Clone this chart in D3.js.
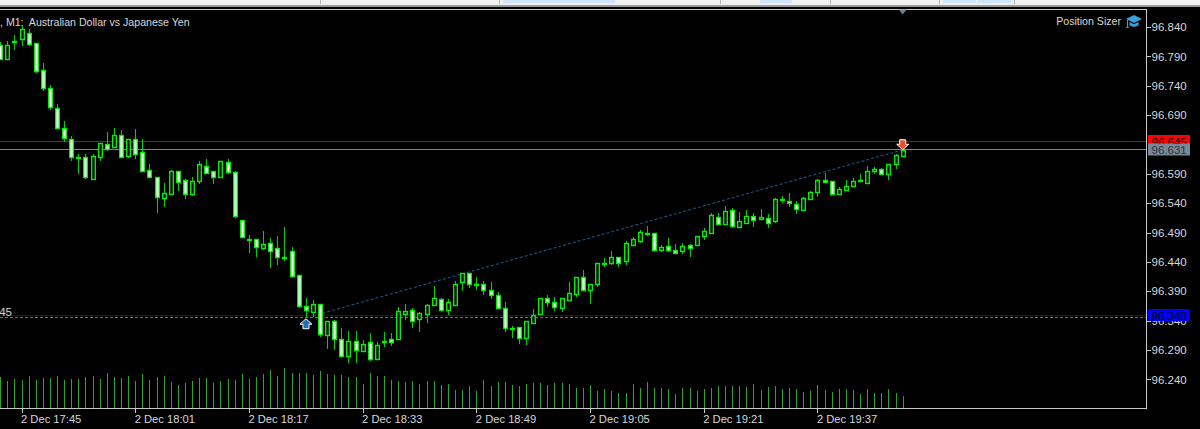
<!DOCTYPE html>
<html><head><meta charset="utf-8">
<script src="https://d3js.org/d3.v7.min.js"></script>
<style>html,body{margin:0;padding:0;background:#000;overflow:hidden}svg{display:block}text{font-family:"Liberation Sans",Arial,sans-serif;font-size:11.2px;white-space:pre}</style>
</head><body><svg id="c" width="1200" height="429"></svg>
<script>
const firstIndex = -3;
const opens = [96.810,96.786,96.816,96.819,96.829,96.812,96.766,96.736,96.702,96.668,96.650,96.618,96.618,96.581,96.619,96.640,96.635,96.656,96.620,96.649,96.627,96.597,96.585,96.549,96.555,96.594,96.579,96.555,96.577,96.603,96.594,96.585,96.610,96.593,96.512,96.479,96.479,96.464,96.473,96.463,96.448,96.458,96.418,96.365,96.354,96.368,96.316,96.340,96.309,96.279,96.306,96.289,96.303,96.275,96.305,96.308,96.309,96.351,96.359,96.342,96.351,96.367,96.377,96.358,96.367,96.406,96.421,96.402,96.402,96.393,96.383,96.362,96.328,96.329,96.310,96.336,96.351,96.378,96.372,96.362,96.376,96.386,96.414,96.393,96.402,96.437,96.439,96.448,96.442,96.469,96.476,96.490,96.490,96.461,96.467,96.460,96.458,96.468,96.469,96.484,96.490,96.517,96.505,96.528,96.500,96.507,96.519,96.513,96.515,96.509,96.548,96.544,96.539,96.528,96.548,96.559,96.580,96.577,96.556,96.562,96.569,96.578,96.575,96.595,96.599,96.590,96.606,96.620];
const highs = [96.814,96.816,96.826,96.842,96.837,96.812,96.778,96.741,96.709,96.680,96.654,96.624,96.624,96.623,96.642,96.661,96.668,96.665,96.650,96.666,96.649,96.607,96.585,96.575,96.597,96.595,96.581,96.585,96.612,96.616,96.594,96.612,96.616,96.595,96.512,96.486,96.479,96.493,96.481,96.484,96.500,96.465,96.418,96.378,96.375,96.368,96.340,96.341,96.328,96.322,96.322,96.307,96.319,96.304,96.320,96.319,96.364,96.368,96.361,96.354,96.369,96.399,96.378,96.377,96.408,96.422,96.422,96.414,96.408,96.405,96.388,96.371,96.331,96.329,96.340,96.360,96.378,96.384,96.381,96.379,96.406,96.415,96.426,96.403,96.439,96.446,96.459,96.448,96.476,96.482,96.494,96.501,96.490,96.469,96.481,96.471,96.473,96.471,96.484,96.497,96.523,96.523,96.535,96.532,96.525,96.529,96.523,96.530,96.522,96.549,96.553,96.557,96.544,96.550,96.560,96.581,96.592,96.578,96.567,96.580,96.583,96.590,96.603,96.601,96.600,96.607,96.623,96.633];
const lows = [96.785,96.786,96.801,96.808,96.808,96.762,96.731,96.698,96.667,96.645,96.611,96.590,96.582,96.581,96.611,96.629,96.635,96.617,96.617,96.616,96.593,96.583,96.523,96.534,96.554,96.561,96.547,96.552,96.573,96.590,96.573,96.585,96.590,96.514,96.481,96.455,96.449,96.460,96.429,96.435,96.442,96.413,96.361,96.347,96.347,96.312,96.292,96.290,96.280,96.268,96.268,96.288,96.271,96.275,96.295,96.297,96.309,96.341,96.328,96.321,96.336,96.367,96.358,96.350,96.366,96.391,96.396,96.392,96.384,96.377,96.361,96.321,96.310,96.301,96.298,96.336,96.350,96.363,96.357,96.355,96.374,96.380,96.391,96.368,96.398,96.431,96.435,96.432,96.435,96.468,96.473,96.485,96.457,96.457,96.457,96.453,96.453,96.449,96.468,96.477,96.489,96.504,96.503,96.497,96.498,96.506,96.500,96.512,96.497,96.507,96.541,96.534,96.522,96.527,96.547,96.551,96.575,96.555,96.555,96.561,96.568,96.578,96.572,96.590,96.589,96.580,96.598,96.620];
const closes = [96.785,96.809,96.817,96.837,96.811,96.765,96.736,96.703,96.668,96.651,96.618,96.617,96.584,96.621,96.642,96.632,96.656,96.618,96.649,96.624,96.594,96.584,96.550,96.557,96.595,96.576,96.555,96.577,96.606,96.592,96.584,96.611,96.593,96.518,96.482,96.478,96.466,96.470,96.458,96.448,96.447,96.416,96.365,96.358,96.368,96.317,96.340,96.309,96.280,96.305,96.290,96.301,96.274,96.299,96.304,96.304,96.357,96.357,96.340,96.353,96.367,96.378,96.359,96.371,96.402,96.421,96.402,96.401,96.392,96.383,96.362,96.327,96.326,96.311,96.340,96.350,96.378,96.372,96.363,96.378,96.387,96.414,96.392,96.402,96.438,96.439,96.448,96.439,96.473,96.479,96.491,96.488,96.460,96.465,96.460,96.455,96.467,96.464,96.484,96.493,96.520,96.505,96.526,96.501,96.509,96.519,96.512,96.517,96.507,96.548,96.545,96.541,96.530,96.549,96.559,96.580,96.576,96.556,96.564,96.569,96.578,96.579,96.595,96.599,96.590,96.606,96.622,96.631];
const volumes = [92,82,88,84,97,84,90,90,95,84,87,88,94,97,88,105,94,90,97,82,103,84,94,97,78,68,75,82,90,90,75,82,88,84,103,88,94,103,114,97,119,105,105,105,100,111,103,98,100,94,92,73,105,95,95,84,82,77,82,73,82,82,69,73,55,55,65,52,84,66,78,78,70,66,73,76,76,69,76,76,73,60,61,69,52,56,50,46,46,72,61,77,61,61,56,41,59,59,50,56,61,67,67,67,67,64,72,53,64,67,56,61,56,48,50,69,53,48,56,56,53,41,56,44,46,56,44,35];
const priceTicks = [96.84,96.79,96.74,96.69,96.59,96.54,96.49,96.44,96.39,96.34,96.29,96.24];
const timeTickIndexes = [0,16,32,48,64,80,96,112];
const timeTickLabels = ["2 Dec 17:45","2 Dec 18:01","2 Dec 18:17","2 Dec 18:33","2 Dec 18:49","2 Dec 19:05","2 Dec 19:21","2 Dec 19:37"];
const stopPrice = 96.645, lastPrice = 96.631, entryPrice = 96.348, openLevel = 96.345;
const tradeFrom = {i:41, p:96.348}, tradeTo = {i:124, p:96.631};
const title = ", M1:  Australian Dollar vs Japanese Yen";
const sizerLabel = "Position Sizer";

const svg = d3.select("#c");
const x = d3.scaleLinear().domain([0,124]).range([21.5,902.7]);
const y = d3.scaleLinear().domain([96.24,96.84]).range([379.4,27]);
const v = d3.scaleLinear().domain([0,120]).range([408,368]);
const sx = i => Math.round(x(i));
const sy = p => Math.round(y(p));
const AX = "#c8c8c8";

svg.append("rect").attr("width",1200).attr("height",6).attr("fill","#f0f0f0");
svg.append("rect").attr("y",5).attr("width",1200).attr("height",2).attr("fill","#9a9a9a");
[[503,112],[760,32],[943,33],[978,33]].forEach(([a,w])=>svg.append("rect").attr("x",a).attr("y",0).attr("width",w).attr("height",3).attr("fill","#cde6fb"));
[320,499,720,830,939,1014].forEach(a=>svg.append("rect").attr("x",a).attr("y",0).attr("width",1).attr("height",4).attr("fill","#b0b0b0"));
svg.append("rect").attr("x",0).attr("y",9).attr("width",1147).attr("height",1).attr("fill",AX);

const bars = svg.append("g").attr("shape-rendering","crispEdges");
bars.selectAll("line").data(volumes).join("line")
  .attr("x1",(d,j)=>sx(j+firstIndex)+.5).attr("x2",(d,j)=>sx(j+firstIndex)+.5)
  .attr("y1",408).attr("y2",d=>Math.round(v(d))).attr("stroke","#26a826");

const lvl = svg.append("g").attr("shape-rendering","crispEdges");
const level=(p,c,dash,w)=>lvl.append("line").attr("x1",0).attr("x2",1146).attr("y1",Math.floor(y(p))+.5).attr("y2",Math.floor(y(p))+.5).attr("stroke",c).attr("stroke-width",w||1).attr("stroke-dasharray",dash||null);
level(stopPrice,"#d00000");
level(lastPrice,"#778899");

svg.append("line").attr("x1",x(tradeFrom.i)).attr("y1",y(tradeFrom.p)).attr("x2",x(tradeTo.i)).attr("y2",y(tradeTo.p))
  .attr("stroke","#155488").attr("stroke-width",1.1).attr("stroke-dasharray","3 2");

const candles = opens.map((o,j)=>({i:j+firstIndex,o,h:highs[j],l:lows[j],c:closes[j]}));
const cs = svg.append("g");
cs.selectAll("line").data(candles).join("line")
  .attr("x1",d=>sx(d.i)+.5).attr("x2",d=>sx(d.i)+.5).attr("y1",d=>sy(d.h)).attr("y2",d=>sy(d.l)).attr("stroke","#00d000").attr("stroke-width",1.1);
cs.selectAll("rect").data(candles).join("rect")
  .attr("x",d=>sx(d.i)-1.3).attr("width",3.6)
  .attr("y",d=>sy(Math.max(d.o,d.c))+.5)
  .attr("height",d=>Math.max(1,sy(Math.min(d.o,d.c))-sy(Math.max(d.o,d.c))))
  .attr("fill",d=>d.c<d.o?"#fff":"#000").attr("stroke","#00f000").attr("stroke-width",1.4);

level(entryPrice,"#0000f0");
level(openLevel,"#18b018","3 2");

const up="M0,0L6,5.5L3,5.5L3,10L-3,10L-3,5.5L-6,5.5Z";
svg.append("path").attr("d",up).attr("transform",`translate(${x(40)+.2},${y(openLevel)+1})`).attr("fill","#1f6fb5").attr("stroke","#fff").attr("stroke-width",1);
svg.append("path").attr("d",up).attr("transform",`translate(${x(124)},${y(lastPrice)}) scale(1,-1)`).attr("fill","#e8502a").attr("stroke","#fff").attr("stroke-width",1);
svg.append("path").attr("d","M-4,0L4,0L0,5Z").attr("transform",`translate(${x(124)},9.5)`).attr("fill","#6d8098");

const font='"Liberation Sans",Arial,sans-serif';
const yAxis = d3.axisRight(y).tickValues(priceTicks).tickFormat(d3.format(".3f")).tickSize(4).tickPadding(1);
const ya = svg.append("g").attr("transform","translate(1146.5,0)").call(yAxis);
ya.select(".domain").remove();
ya.selectAll("line").attr("stroke",AX).attr("shape-rendering","crispEdges");
ya.selectAll("text").attr("fill","#d8d8d8").style("font-family",font).style("font-size","11.5px");
const xAxis = d3.axisBottom(x).tickValues(timeTickIndexes).tickFormat((d,k)=>timeTickLabels[k]).tickSize(4).tickPadding(3);
const xa = svg.append("g").attr("transform","translate(0,408.5)").call(xAxis);
xa.select(".domain").remove();
xa.selectAll("line").attr("stroke",AX).attr("shape-rendering","crispEdges");
xa.selectAll("text").attr("fill","#d8d8d8").attr("text-anchor","start").attr("dx",-1).style("font-family",font).style("font-size","11.2px");
svg.append("rect").attr("x",0).attr("y",408).attr("width",1147).attr("height",1).attr("fill",AX);
svg.append("rect").attr("x",1146).attr("y",9).attr("width",1).attr("height",400).attr("fill",AX);

const tag=(p,bg,fg,top,h)=>{
  svg.append("rect").attr("x",1148).attr("y",top).attr("width",42).attr("height",h).attr("fill",bg);
  svg.append("text").attr("x",1151.5).attr("y",y(p)+4).attr("fill",fg).style("font-size","11.5px").text(p.toFixed(3));
};
tag(stopPrice,"#ff0000","#000",135,9);
tag(lastPrice,"#778899","#2c3440",143.5,12);
tag(entryPrice,"#0000ff","#000",309,12);

const small="10.6px";
svg.append("text").attr("x",0).attr("y",26).attr("fill","#d8d8d8").style("font-size",small).text(title);
svg.append("text").attr("x",12).attr("y",315.5).attr("text-anchor","end").attr("fill","#d8d8d8").style("font-size","11.5px").text(openLevel.toFixed(3));
svg.append("text").attr("x",1121).attr("y",25).attr("text-anchor","end").attr("fill","#d8d8d8").style("font-size",small).text(sizerLabel);

const hat=svg.append("g").attr("transform","translate(1126,15)").attr("fill","#3b9fdc");
hat.append("path").attr("d","M8,0L16,4L8,8L0,4Z");
hat.append("path").attr("d","M3.5,7L8,9.3L12.5,7L12.5,10.5L8,12L3.5,10.5Z");
hat.append("path").attr("d","M1,5L2,5L2,11L3,13L0,13L1,11Z");
</script></body></html>
